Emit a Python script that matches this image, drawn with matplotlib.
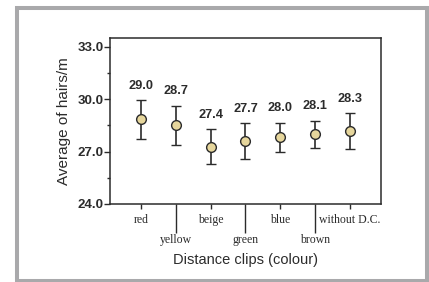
import matplotlib.pyplot as plt
from matplotlib.patches import Rectangle
import numpy as np

# ---- data ----
colours = ['red', 'yellow', 'beige', 'green', 'blue', 'brown', 'without D.C.']
means = [28.87, 28.54, 27.27, 27.60, 27.83, 28.00, 28.17]
upper = [29.96, 29.62, 28.27, 28.63, 28.65, 28.77, 29.19]
lower = [27.71, 27.40, 26.31, 26.56, 26.98, 27.21, 27.12]
mean_labels = ['29.0', '28.7', '27.4', '27.7', '28.0', '28.1', '28.3']

DARK = '#2b2b2b'

fig = plt.figure(figsize=(4.29, 2.82), dpi=100)
fig.patch.set_facecolor('white')

# gray frame around the whole figure
W, H = 429, 282
frame = Rectangle((17 / W, 1.5 / H), (427 - 17) / W, (274.5 - 1.5) / H,
                  transform=fig.transFigure, fill=False,
                  edgecolor='#a9a9ab', linewidth=2.9, zorder=0)
fig.patches.append(frame)

ax = fig.add_axes([110 / W, 1 - 204 / H, (381 - 110) / W, (204 - 38) / H])

x = np.arange(len(colours))
m = np.array(means)
yerr = [m - np.array(lower), np.array(upper) - m]

ax.errorbar(x, m, yerr=yerr, fmt='o', color=DARK, ecolor=DARK,
            elinewidth=1.2, capsize=3.6, capthick=1.2,
            markersize=7, markerfacecolor='#e6d69c',
            markeredgecolor=DARK, markeredgewidth=1.0, zorder=3)

for xi, top, lbl in zip(x, upper, mean_labels):
    ax.annotate(lbl, (xi, top), xytext=(0, 6), textcoords='offset points',
                ha='center', va='bottom', fontsize=9.2, fontweight='bold',
                color=DARK, family='Liberation Sans')

ax.set_xlim(-0.9, 6.9)
ax.set_ylim(24.0, 33.5)
ax.set_yticks([24.0, 27.0, 30.0, 33.0])
ax.set_yticklabels(['24.0', '27.0', '30.0', '33.0'], fontsize=9.5,
                   fontweight='bold', family='Liberation Sans', color=DARK)
ax.set_yticks([25.5, 28.5, 31.5], minor=True)
ax.tick_params(axis='y', which='major', length=4, width=1.0, color=DARK, pad=0.5)
ax.tick_params(axis='y', which='minor', length=2, width=1.0, color=DARK)

ax.set_xticks(x)
ax.set_xticklabels(colours, fontsize=8.5, family='Liberation Serif', color=DARK)
ax.tick_params(axis='x', which='major', width=1.0, color=DARK)
for i, tick in enumerate(ax.xaxis.get_major_ticks()):
    if i % 2 == 0:
        tick._apply_params(size=3.5, pad=3.5)
    else:
        tick._apply_params(size=21, pad=0.5)

for sp in ax.spines.values():
    sp.set_color(DARK)
    sp.set_linewidth(1.1)

ax.set_ylabel('Average of hairs/m', fontsize=11, family='Liberation Sans',
              color=DARK, labelpad=5)
ax.set_xlabel('Distance clips (colour)', fontsize=10.5, family='Liberation Sans',
              color=DARK, labelpad=5)

fig.savefig('out.png', dpi=100)
